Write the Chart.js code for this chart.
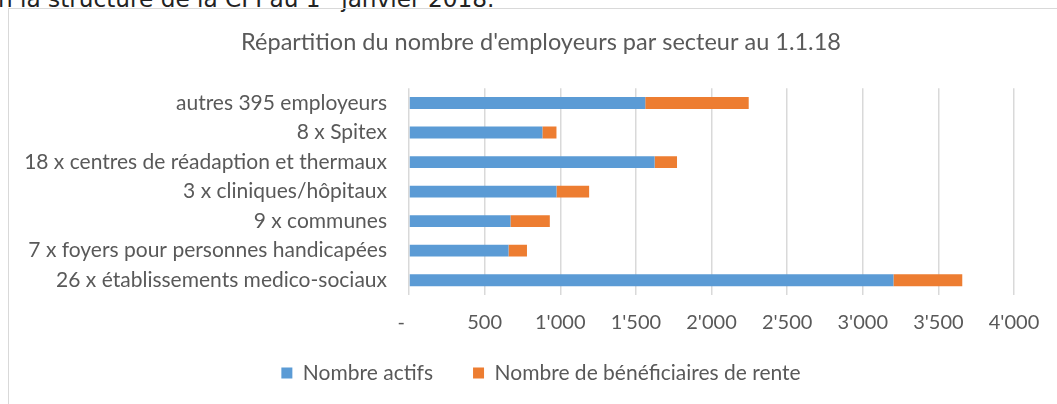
<!DOCTYPE html>
<html>
<head>
<meta charset="utf-8">
<script src="https://cdn.jsdelivr.net/npm/chart.js@4.4.1/dist/chart.umd.min.js"></script>
<style>
  html, body { margin: 0; padding: 0; background: #fff; overflow: hidden; }
  body { width: 1057px; height: 404px; position: relative; }
  #frame { position: absolute; left: 8px; top: 8px; width: 1100px; height: 500px; border: 1px solid #d9d9d9; box-sizing: border-box; }
  #toptext { position: absolute; left: -2px; top: -18px; font-family: 'DejaVu Sans', sans-serif; font-size: 23.2px; line-height: 23.2px; color: #222; white-space: nowrap; }
  #toptext sup { font-size: 13px; }
  #c { position: absolute; left: 0; top: 0; }
</style>
</head>
<body>
<div id="toptext">n la structure de la CPI au 1<sup>er</sup> janvier 2018.</div>
<div id="frame"></div>
<canvas id="c" width="1057" height="404"></canvas>
<script>
const titleText = "Répartition du nombre d'employeurs par secteur au 1.1.18";
const categories = [
  'autres 395 employeurs',
  '8 x Spitex',
  '18 x centres de réadaption et thermaux',
  '3 x cliniques/hôpitaux',
  '9 x communes',
  '7 x foyers pour personnes handicapées',
  '26 x établissements medico-sociaux'
];
const seriesNames = ['Nombre actifs', 'Nombre de bénéficiaires de rente'];
const actifs = [1562, 882, 1624, 975, 671, 658, 3203];
const rentiers = [684, 93, 148, 216, 260, 122, 455];
const xTickLabels = ['-   ', '500', "1'000", "1'500", "2'000", "2'500", "3'000", "3'500", "4'000"];

const grey = '#595959';
const fontFamily = 'Lato, "Open Sans", sans-serif';
const noLabelClip = (s) => { s._computeLabelArea = () => undefined; };

new Chart(document.getElementById('c'), {
  type: 'bar',
  data: {
    labels: categories,
    datasets: [
      { label: seriesNames[0], data: actifs, backgroundColor: '#5B9BD5', borderWidth: 0, categoryPercentage: 1.0, barPercentage: 0.4 },
      { label: seriesNames[1], data: rentiers, backgroundColor: '#ED7D31', borderWidth: 0, categoryPercentage: 1.0, barPercentage: 0.4 }
    ]
  },
  options: {
    indexAxis: 'y',
    responsive: false,
    animation: false,
    layout: { padding: { left: 68, right: 43, top: 10, bottom: 10.5 } },
    plugins: {
      title: {
        display: true, text: titleText, color: grey,
        font: { family: fontFamily, size: 23.5, weight: 'normal' },
        padding: { top: 18.5, bottom: 31.5 }
      },
      legend: {
        position: 'bottom',
        labels: { boxWidth: 11, boxHeight: 11, padding: 40, color: grey, font: { family: fontFamily, size: 21 } }
      },
      tooltip: { enabled: false }
    },
    scales: {
      x: {
        stacked: true, min: 0, max: 4000,
        ticks: { stepSize: 500, padding: 16, color: grey, font: { family: fontFamily, size: 20 },
                 callback: (v, i) => xTickLabels[i] },
        grid: { color: '#d9d9d9', lineWidth: 1.5, drawTicks: false },
        border: { display: false },
        afterFit: (s) => { s.height = 27.5; },
        afterUpdate: noLabelClip
      },
      y: {
        stacked: true,
        ticks: { padding: 22, color: grey, font: { family: fontFamily, size: 21 } },
        grid: { display: false, drawTicks: false },
        border: { display: false },
        afterFit: (s) => { s.width = 341; },
        afterUpdate: noLabelClip
      }
    }
  }
});
</script>
</body>
</html>
